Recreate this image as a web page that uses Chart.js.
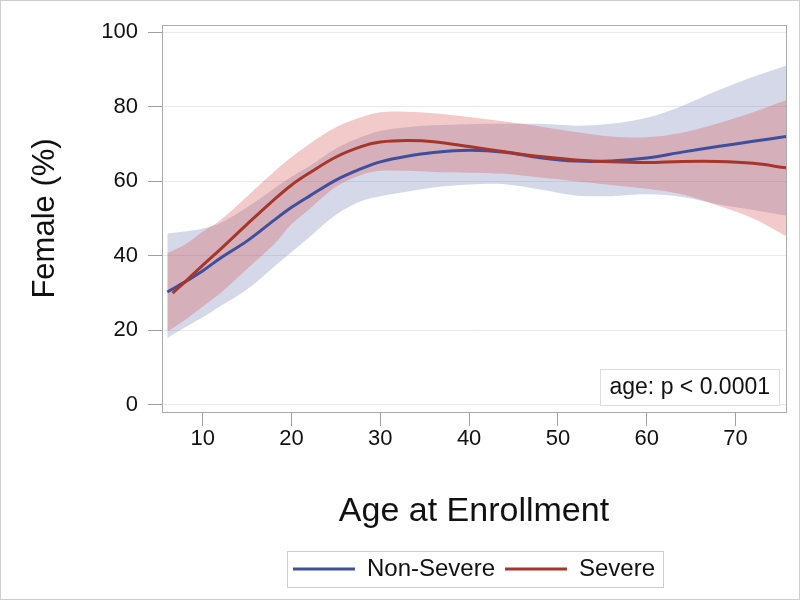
<!DOCTYPE html>
<html>
<head>
<meta charset="utf-8">
<script src="https://cdn.jsdelivr.net/npm/chart.js"></script>
<style>
  html, body { margin: 0; padding: 0; background: #fff; }
  #female_age { display: block; }
</style>
</head>
<body>
<canvas id="female_age" width="800" height="600"></canvas>
<script>
// ages on the x axis (bands share these, the severe line starts a bit later)
const ages = [6, 8, 10, 12, 15, 18, 20, 22, 25, 28, 30, 33, 36, 40, 44, 48, 52, 56, 60, 64, 68, 72, 75.7];
const severeAges = [6.6, 8, 10, 12, 15, 18, 20, 22, 25, 28, 30, 33, 36, 40, 44, 48, 52, 56, 60, 64, 68, 72, 75.7];

// Non-Severe fit and 95% band
const nonSevere      = [30.3, 33.0, 36.0, 39.4, 44.0, 49.5, 53.0, 56.0, 60.3, 63.5, 65.2, 66.7, 67.7, 68.3, 67.8, 66.3, 65.4, 65.4, 66.2, 67.8, 69.3, 70.7, 72.0];
const nonSevereUpper = [46.0, 46.5, 47.3, 48.8, 53.0, 58.0, 61.2, 64.0, 68.8, 72.0, 73.5, 74.5, 75.0, 75.3, 75.4, 75.4, 74.9, 75.4, 77.0, 80.2, 84.3, 88.0, 91.0];
const nonSevereLower = [17.9, 20.8, 23.5, 26.5, 31.0, 37.0, 41.0, 45.0, 51.0, 54.8, 56.0, 57.2, 58.3, 59.1, 59.2, 57.8, 56.2, 56.0, 56.5, 55.8, 53.8, 52.3, 50.8];

// Severe fit and 95% band
const severe      = [30.0, 33.0, 37.5, 41.8, 48.5, 55.0, 59.0, 62.2, 66.5, 69.4, 70.5, 70.9, 70.6, 69.3, 67.9, 66.6, 65.7, 65.2, 65.0, 65.3, 65.3, 64.8, 63.6];
const severeUpper = [40.7, 43.0, 46.5, 49.6, 56.0, 62.5, 66.5, 70.0, 74.5, 77.3, 78.5, 78.6, 78.2, 77.2, 76.0, 74.7, 73.2, 72.0, 71.8, 73.0, 75.5, 78.5, 81.7];
const severeLower = [19.7, 22.8, 26.4, 30.0, 36.5, 43.0, 48.5, 52.5, 58.5, 61.8, 62.8, 62.8, 62.5, 62.3, 62.0, 61.0, 60.0, 59.0, 58.0, 56.5, 53.5, 50.0, 45.3];

const xTicks = [10, 20, 30, 40, 50, 60, 70];
const yTicks = [0, 20, 40, 60, 80, 100];
const pValueText = 'age: p < 0.0001';

const FONT = '"Liberation Sans", Arial, Helvetica, sans-serif';
const BLUE = '#3f4f9c';
const RED = '#a8352a';

function pts(xs, ys) {
  return ys.map((y, i) => ({ x: xs[i], y: y }));
}

// frame around plot, legend box, p-value inset
const decorations = {
  id: 'decorations',
  afterDraw(chart) {
    const ctx = chart.ctx;
    const a = chart.chartArea;
    ctx.save();
    // outer picture frame
    ctx.strokeStyle = '#cfcfcf';
    ctx.lineWidth = 1;
    ctx.strokeRect(0.5, 0.5, chart.width - 1, chart.height - 1);
    // plot frame
    ctx.strokeStyle = '#ababab';
    ctx.strokeRect(Math.round(a.left) + 0.5, Math.round(a.top) + 0.5, Math.round(a.right - a.left), Math.round(a.bottom - a.top));

    // p-value box in lower right corner
    ctx.font = '23px ' + FONT;
    const tw = ctx.measureText(pValueText).width;
    const bw = tw + 18, bh = 36;
    const bx = a.right - 7 - bw, by = a.bottom - 7 - bh;
    ctx.fillStyle = '#fff';
    ctx.fillRect(bx, by, bw, bh);
    ctx.strokeStyle = '#dcdcdc';
    ctx.strokeRect(Math.round(bx) + 0.5, Math.round(by) + 0.5, Math.round(bw), bh);
    ctx.fillStyle = '#111';
    ctx.textBaseline = 'middle';
    ctx.textAlign = 'center';
    ctx.fillText(pValueText, bx + bw / 2, by + bh / 2 + 1);

    // border around legend entries
    const hb = chart.legend.legendHitBoxes;
    if (hb && hb.length) {
      const l = hb[0].left - 6;
      const r = hb[hb.length - 1].left + hb[hb.length - 1].width + 8;
      const cy = hb[0].top + hb[0].height / 2;
      ctx.strokeStyle = '#cfcfcf';
      ctx.strokeRect(Math.round(l) + 0.5, Math.round(cy - 18) + 0.5, Math.round(r - l), 36);
    }
    ctx.restore();
  }
};

new Chart('female_age', {
  type: 'line',
  data: {
    datasets: [
      {
        label: 'Non-Severe',
        data: pts(ages, nonSevere),
        borderColor: BLUE,
        backgroundColor: BLUE,
        borderWidth: 3,
        pointRadius: 0,
        fill: false,
        order: 1
      },
      {
        label: 'Severe',
        data: pts(severeAges, severe),
        borderColor: RED,
        backgroundColor: RED,
        borderWidth: 3,
        pointRadius: 0,
        fill: false,
        order: 0
      },
      {
        label: 'nsLower',
        data: pts(ages, nonSevereLower),
        borderWidth: 0,
        pointRadius: 0,
        fill: false,
        order: 5
      },
      {
        label: 'nsUpper',
        data: pts(ages, nonSevereUpper),
        borderWidth: 0,
        pointRadius: 0,
        fill: 2,
        backgroundColor: 'rgba(111, 126, 179, 0.30)',
        order: 4
      },
      {
        label: 'sLower',
        data: pts(ages, severeLower),
        borderWidth: 0,
        pointRadius: 0,
        fill: false,
        order: 3
      },
      {
        label: 'sUpper',
        data: pts(ages, severeUpper),
        borderWidth: 0,
        pointRadius: 0,
        fill: 4,
        backgroundColor: 'rgba(214, 80, 80, 0.30)',
        order: 2
      }
    ]
  },
  options: {
    responsive: false,
    animation: false,
    elements: { line: { tension: 0.35 } },
    layout: { padding: { left: 0, top: 25, right: 14, bottom: 9 } },
    scales: {
      x: {
        type: 'linear',
        min: 5.4,
        max: 75.7,
        afterBuildTicks: axis => { axis.ticks = xTicks.map(v => ({ value: v })); },
        afterFit: axis => { axis.height = 135; },
        grid: { drawOnChartArea: false, tickLength: 14, tickColor: '#a0a0a0' },
        border: { display: true, color: '#ababab' },
        ticks: { font: { family: FONT, size: 22 }, color: '#111', padding: 0, maxRotation: 0 },
        title: {
          display: true,
          text: 'Age at Enrollment',
          font: { family: FONT, size: 34 },
          color: '#111',
          padding: { top: 0, bottom: 15 }
        }
      },
      y: {
        min: -1.9,
        max: 101.9,
        afterBuildTicks: axis => { axis.ticks = yTicks.map(v => ({ value: v })); },
        afterFit: axis => { axis.width = 162; },
        grid: { color: '#e8e8e8', tickLength: 14, tickColor: '#a0a0a0' },
        border: { display: true, color: '#ababab' },
        ticks: { font: { family: FONT, size: 22 }, color: '#111', padding: 10 },
        title: {
          display: true,
          text: 'Female (%)',
          font: { family: FONT, size: 31 },
          color: '#111',
          padding: { top: 27, bottom: 0 }
        }
      }
    },
    plugins: {
      legend: {
        position: 'bottom',
        fullSize: false,
        labels: {
          font: { family: FONT, size: 24 },
          color: '#111',
          boxWidth: 62,
          boxHeight: 3,
          padding: 10,
          filter: item => item.datasetIndex < 2,
          sort: (a, b) => a.datasetIndex - b.datasetIndex,
          generateLabels: chart => Chart.defaults.plugins.legend.labels.generateLabels(chart)
            .map(item => Object.assign(item, { lineWidth: 0 }))
        }
      },
      tooltip: { enabled: false }
    }
  },
  plugins: [decorations]
});
</script>
</body>
</html>
